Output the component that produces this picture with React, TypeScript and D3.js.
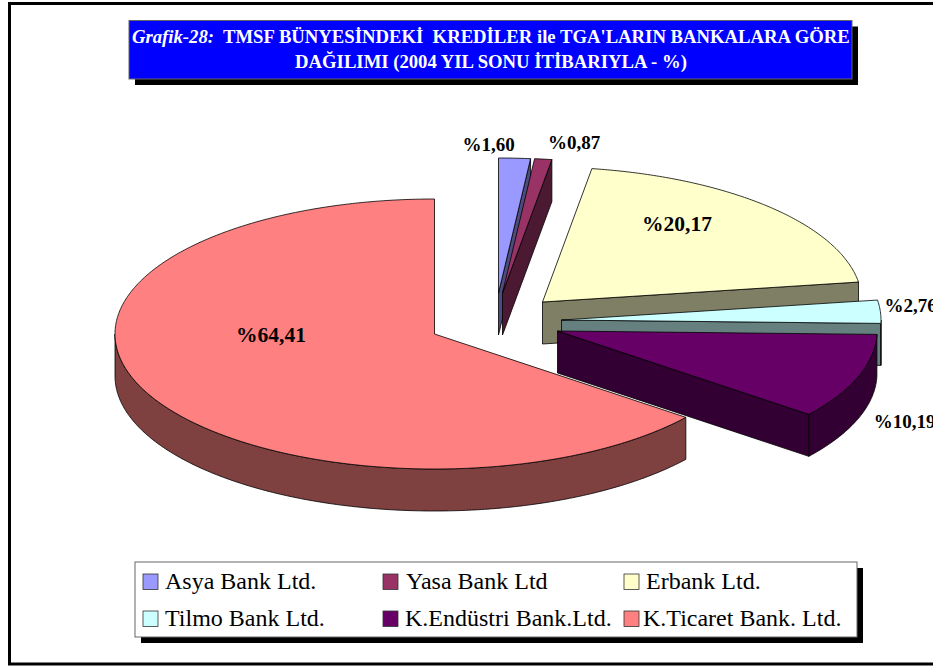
import React from "react";
import * as d3 from "d3";

const banks = ["Asya Bank Ltd.", "Yasa Bank Ltd", "Erbank Ltd.", "Tilmo Bank Ltd.", "K.Endüstri Bank.Ltd.", "K.Ticaret Bank. Ltd."];
const shares = [1.6, 0.87, 20.17, 2.76, 10.19, 64.41];
const shareLabels = ["%1,60", "%0,87", "%20,17", "%2,76", "%10,19", "%64,41"];
const topColors = ["#9999ff", "#993366", "#ffffcc", "#ccffff", "#660066", "#ff8080"];
const sideColors = ["#4c4c7f", "#4c1933", "#7f7f66", "#667f7f", "#330033", "#7f4040"];
const explodeX = [64, 68, 108, 127, 123, 0];
const explodeY = [-41, -41, -32, -14, -3, 0];
const labelX = [488.5, 574, 677, 910.5, 904.5, 271];
const labelY = [151, 149, 231, 312, 428, 342];
const labelSize = [19, 19, 21.5, 19, 19, 21.5];

const CX = 434.5, CY = 334, RX = 319.5, RY = 135, DEPTH = 42;
const FONT = "'Liberation Serif', 'Times New Roman', serif";

const sx = d3.scaleLinear().domain([-1, 1]).range([CX - RX, CX + RX]);
const sy = d3.scaleLinear().domain([-1, 1]).range([CY - RY, CY + RY]);
const line = d3.line<[number, number]>();
const pie = d3.pie<number>().sort(null).startAngle(0).endAngle(2 * Math.PI);
const arcs = pie(shares);

function rim(a0: number, a1: number, dx: number, dy: number): [number, number][] {
  const n = Math.max(2, Math.ceil((a1 - a0) / 0.01));
  return d3.range(n + 1).map((i) => {
    const a = a0 + ((a1 - a0) * i) / n;
    return [sx(Math.sin(a)) + dx, sy(-Math.cos(a)) + dy] as [number, number];
  });
}

function Slice({ i }: { i: number }) {
  const { startAngle: a0, endAngle: a1 } = arcs[i];
  const dx = explodeX[i], dy = explodeY[i];
  const apex: [number, number] = [CX + dx, CY + dy];
  const faces: string[] = [];
  if (a1 < Math.PI) {
    const e = rim(a1, a1, dx, dy)[0];
    faces.push(line([apex, e, [e[0], e[1] + DEPTH], [apex[0], apex[1] + DEPTH]])! + "Z");
  }
  const w0 = Math.max(a0, Math.PI / 2), w1 = Math.min(a1, (3 * Math.PI) / 2);
  if (w1 > w0) {
    const top = rim(w0, w1, dx, dy);
    const bottom = top.map(([x, y]) => [x, y + DEPTH] as [number, number]).reverse();
    faces.push(line([...top, ...bottom])! + "Z");
  }
  return (
    <g stroke="#000" strokeWidth={0.8} strokeLinejoin="round">
      {faces.map((d, k) => <path key={k} d={d} fill={sideColors[i]} />)}
      <path d={line([apex, ...rim(a0, a1, dx, dy)])! + "Z"} fill={topColors[i]} />
    </g>
  );
}

function Box({ x, y, w, h, fill, stroke }: { x: number; y: number; w: number; h: number; fill: string; stroke: string }) {
  return (
    <g>
      <rect x={x + 6} y={y + 6} width={w} height={h} fill="#000" />
      <rect x={x} y={y} width={w} height={h} fill={fill} stroke={stroke} strokeWidth={1} />
    </g>
  );
}

const legendSwatchX = [143, 383, 624];
const legendTextX = [165, 406, 646, 165, 405, 643];
const legendSwatchY = [574, 611];
const legendBaseline = [589, 626];

export default function App() {
  return (
    <svg width={933} height={666} style={{ position: "absolute", left: 0, top: 0, background: "#fff" }} fontFamily={FONT}>
      <rect x={9.5} y={3.5} width={970} height={660.5} fill="#fff" stroke="#000" strokeWidth={3} />
      <Box x={129} y={20.5} w={723} h={58.5} fill="#0000ff" stroke="#666" />
      <text x={132} y={43} fill="#fff" fontWeight="bold" fontSize={18.7} xmlSpace="preserve">
        <tspan fontStyle="italic">Grafik-28:</tspan>
        <tspan>{"  TMSF BÜNYESİNDEKİ  KREDİLER ile TGA'LARIN BANKALARA GÖRE"}</tspan>
      </text>
      <text x={491} y={67.5} textAnchor="middle" fill="#fff" fontWeight="bold" fontSize={18.7}>
        DAĞILIMI (2004 YIL SONU İTİBARIYLA - %)
      </text>
      {arcs.map((_, i) => <Slice key={i} i={i} />)}
      {shareLabels.map((t, i) => (
        <text key={t} x={labelX[i]} y={labelY[i]} textAnchor="middle" fontWeight="bold" fontSize={labelSize[i]} fill="#000">{t}</text>
      ))}
      <Box x={135} y={562} w={722} h={75} fill="#fff" stroke="#666" />
      {banks.map((b, i) => {
        const c = i % 3, r = Math.floor(i / 3);
        return (
          <g key={b}>
            <rect x={legendSwatchX[c]} y={legendSwatchY[r]} width={15} height={15.5} fill={topColors[i]} stroke="#333" strokeWidth={0.8} />
            <text x={legendTextX[i]} y={legendBaseline[r]} fontSize={24} fill="#000">{b}</text>
          </g>
        );
      })}
    </svg>
  );
}
